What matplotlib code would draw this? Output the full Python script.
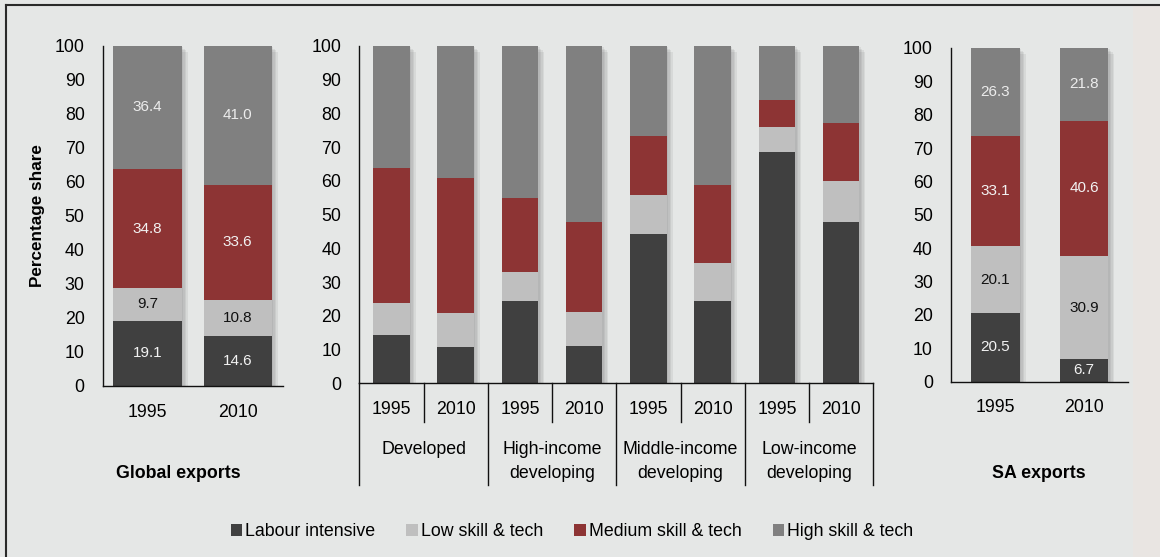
import numpy as np
import matplotlib
matplotlib.use('Agg')
import matplotlib.pyplot as plt
from matplotlib.patches import Patch, Rectangle
from matplotlib.lines import Line2D
from matplotlib import transforms

plt.rcParams['font.family'] = ['Liberation Sans', 'DejaVu Sans']

# --- data -------------------------------------------------------------
years = ['1995', '2010']
series = ['Labour intensive', 'Low skill & tech', 'Medium skill & tech', 'High skill & tech']

global_labour = [19.1, 14.6]
global_low = [9.7, 10.8]
global_med = [34.8, 33.6]
global_high = [36.4, 41.0]

groups = ['Developed', 'High-income\ndeveloping', 'Middle-income\ndeveloping', 'Low-income\ndeveloping']
grp_labour = [14.3, 10.7, 24.4, 11.0, 44.2, 24.4, 68.6, 47.9]
grp_low = [9.4, 10.1, 8.7, 10.0, 11.5, 11.4, 7.4, 12.1]
grp_med = [40.1, 40.0, 21.8, 26.9, 17.6, 23.0, 8.1, 17.3]
grp_high = [36.2, 39.2, 45.1, 52.1, 26.7, 41.2, 15.9, 22.7]

sa_labour = [20.5, 6.7]
sa_low = [20.1, 30.9]
sa_med = [33.1, 40.6]
sa_high = [26.3, 21.8]

# --- style ------------------------------------------------------------
W, H = 1160, 557
bg = '#e5e7e6'
colors = ['#404040', '#bfbfbf', '#8d3434', '#808080']
lbl_colors = ['#f2f2f2', '#111111', '#f2f2f2', '#ececec']
fs = 12.8


def fx(px):
    return px / W


def fy(py):
    return 1 - py / H


def panel(rect, cats, parts, bar_w, labels=False):
    ax = fig.add_axes(rect)
    ax.set_facecolor('none')
    n = len(cats)
    x = np.arange(n)
    ax.set_xlim(-0.5, n - 0.5)
    ax.set_ylim(0, 100)
    px_unit = rect[2] * W / n
    total = np.sum(parts, axis=0)
    # soft shadow on the right
    for off in [1.5, 3, 4.5, 6]:
        ax.bar(x + off / px_unit, total, bar_w, bottom=-off / 3.4, color='#606060',
               alpha=0.10, lw=0, zorder=1)
    bottom = np.zeros(n)
    for vals, c, tc in zip(parts, colors, lbl_colors):
        vals = np.array(vals)
        ax.bar(x, vals, bar_w, bottom=bottom, color=c, lw=0, zorder=2)
        if labels:
            for xi, b, v in zip(x, bottom, vals):
                ax.text(xi, b + v / 2, f'{v:.1f}', ha='center', va='center',
                        fontsize=11, color=tc, zorder=3)
        bottom += vals
    ax.set_yticks(range(0, 101, 10))
    ax.set_xticks([])
    ax.tick_params(axis='y', length=0, pad=13, labelsize=fs)
    for s in ['top', 'right']:
        ax.spines[s].set_visible(False)
    for s in ['left', 'bottom']:
        ax.spines[s].set_color('#111111')
        ax.spines[s].set_linewidth(1.0)
    for xi, c in zip(x, cats):
        ax.annotate(c, xy=(xi, 0), xycoords=('data', 'axes fraction'),
                    xytext=(0, -26.5 * 0.72), textcoords='offset points',
                    ha='center', va='center', fontsize=fs)
    return ax


fig = plt.figure(figsize=(W / 100, H / 100), dpi=100, facecolor=bg)

# light strip on the right edge and the frame lines
fig.add_artist(Rectangle((fx(1133), 0), 1 - fx(1133), fy(6), transform=fig.transFigure,
                         color='#e9e5e2', lw=0, zorder=0))
fig.add_artist(Line2D([fx(6), 1], [fy(5), fy(5)], transform=fig.transFigure,
                      color='#2a2a2a', lw=1.5))
fig.add_artist(Line2D([fx(6), fx(6)], [0, fy(5)], transform=fig.transFigure,
                      color='#2a2a2a', lw=1.5))

ax1 = panel([fx(102.7), fy(386), fx(180), (386 - 45.5) / H], years,
            [global_labour, global_low, global_med, global_high], 0.76, labels=True)

mid_years = years * len(groups)
ax2 = panel([fx(359.3), fy(383.3), fx(514), (383.3 - 46) / H], mid_years,
            [grp_labour, grp_low, grp_med, grp_high], 0.57)

ax3 = panel([fx(951), fy(381.5), fx(177.3), (381.5 - 48) / H], years,
            [sa_labour, sa_low, sa_med, sa_high], 0.55, labels=True)

# multi-level category axis in the middle panel
ax_h = ax2.get_position().height * H
trans = transforms.blended_transform_factory(ax2.transData, ax2.transAxes)
for b in np.arange(-0.5, len(mid_years), 2):
    ax2.plot([b, b], [0, -101.7 / ax_h], transform=trans, color='#111111', lw=1.0, clip_on=False)
for b in np.arange(0.5, len(mid_years), 2):
    ax2.plot([b, b], [0, -38.4 / ax_h], transform=trans, color='#111111', lw=1.0, clip_on=False)
for i, g in enumerate(groups):
    for j, line in enumerate(g.split('\n')):
        ax2.annotate(line, xy=(2 * i + 0.5, 0), xycoords=('data', 'axes fraction'),
                     xytext=(0, -(65.7 + 24 * j) * 0.72), textcoords='offset points',
                     ha='center', va='center', fontsize=fs)

fig.text(fx(38), fy(216), 'Percentage share', rotation=90, ha='center', va='center',
         fontsize=12.3, fontweight='bold')
fig.text(fx(178), fy(473), 'Global exports', ha='center', va='center',
         fontsize=fs, fontweight='bold')
fig.text(fx(1039), fy(474), 'SA exports', ha='center', va='center',
         fontsize=fs, fontweight='bold')

handles = [Patch(facecolor=c, edgecolor='none') for c in colors]
fig.legend(handles, series, loc='center', bbox_to_anchor=(fx(572), fy(532)), ncol=4,
           frameon=False, fontsize=fs, handlelength=0.65, handleheight=0.65,
           handletextpad=0.17, columnspacing=1.75)

fig.savefig('out.png', dpi=100, facecolor=bg)
